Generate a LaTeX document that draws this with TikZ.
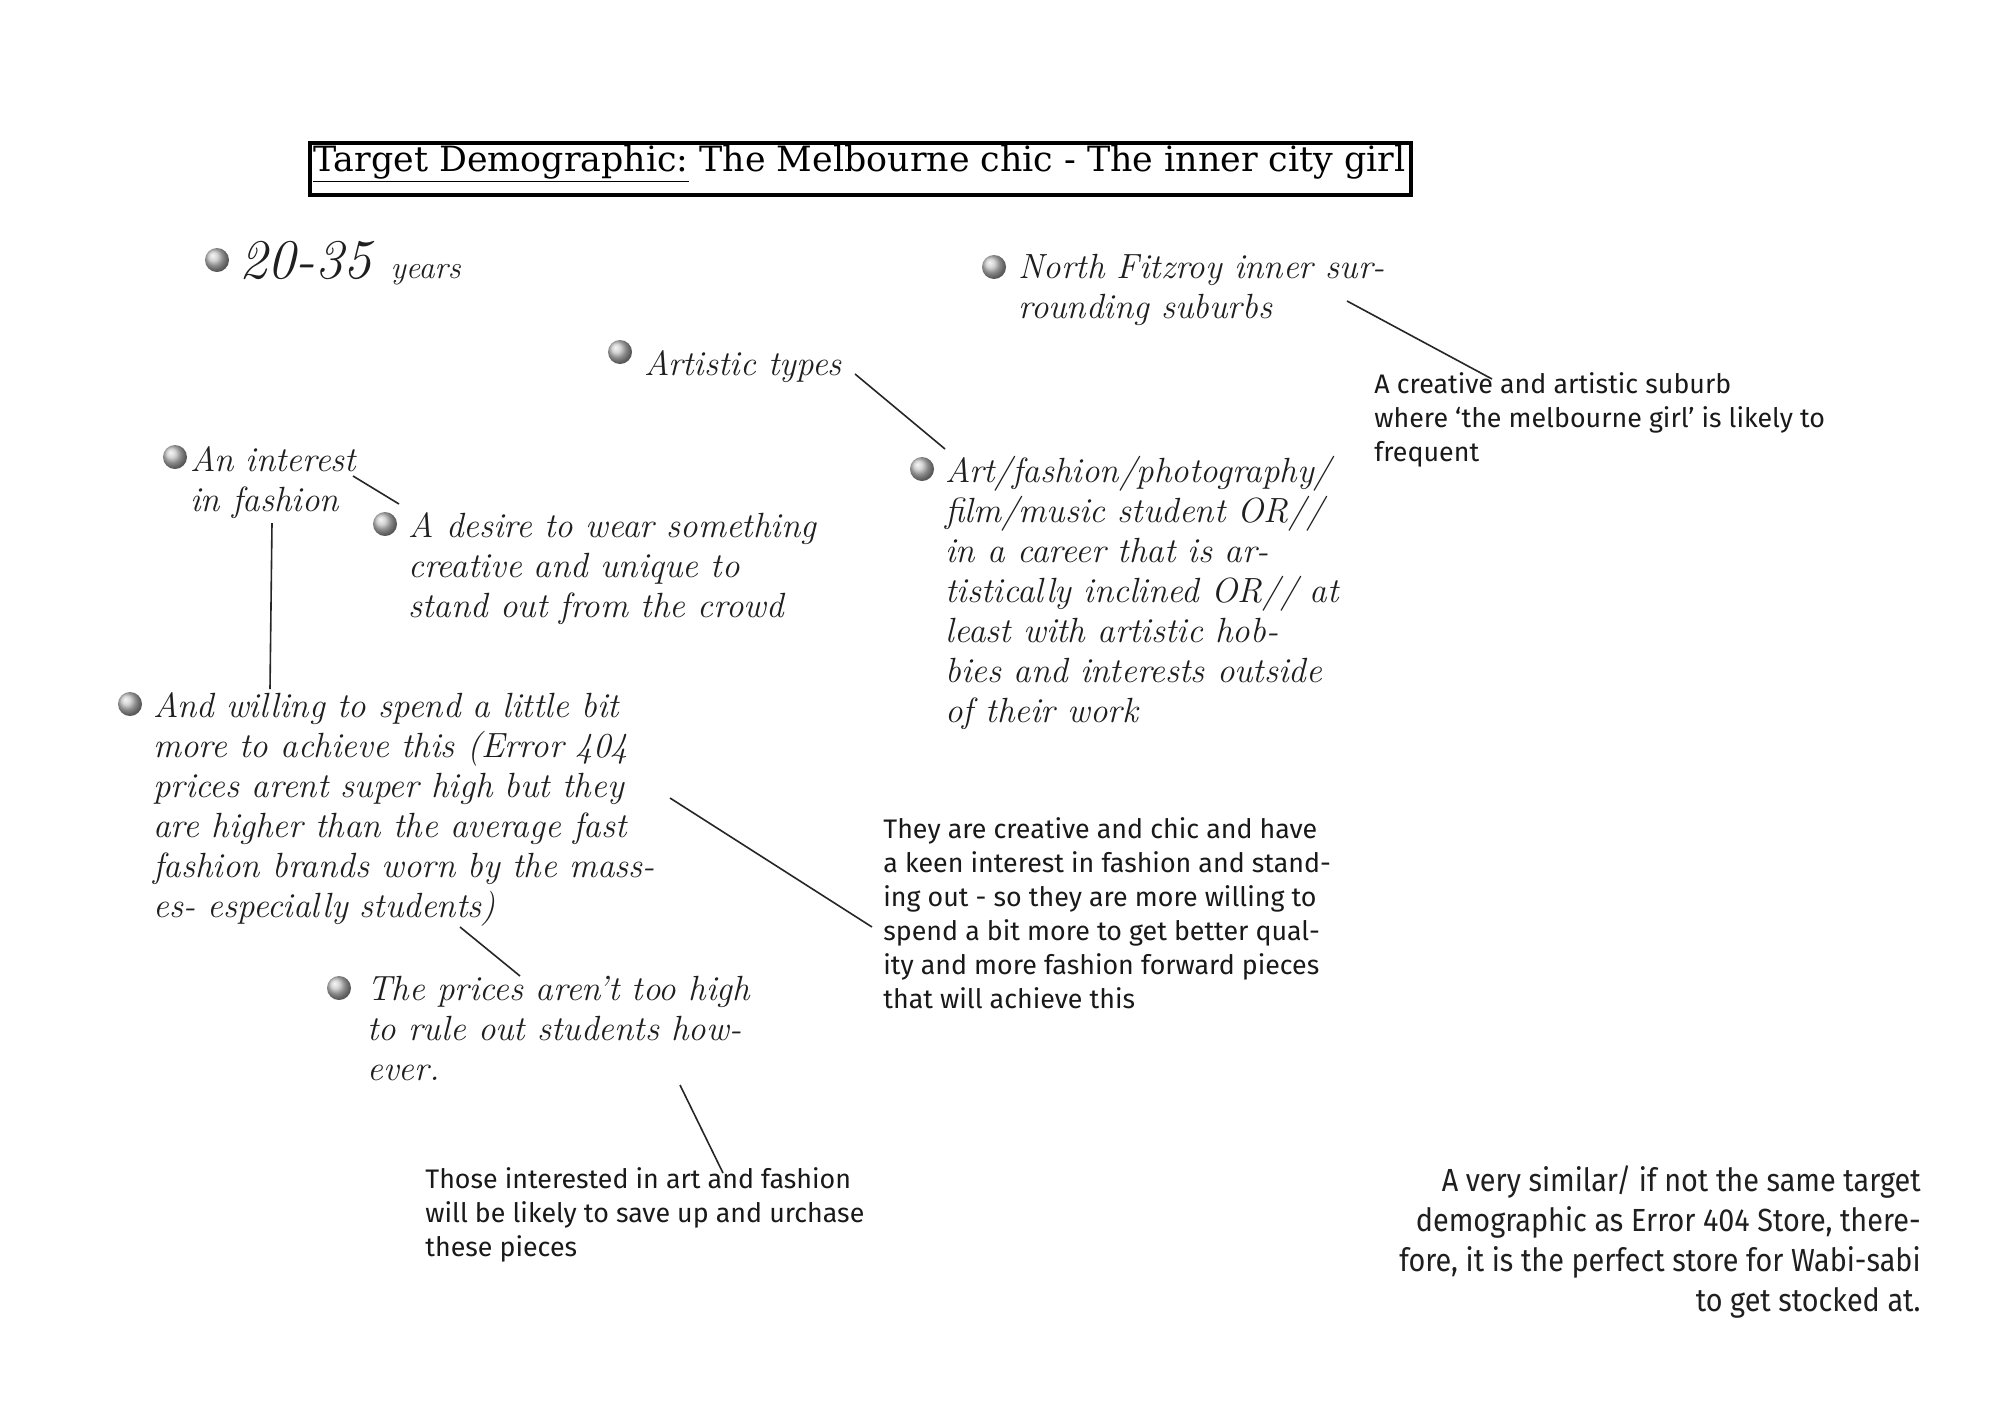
\documentclass[tikz,border=0pt]{standalone}
\usepackage{fontspec}
\newfontfamily\notefont{Fira Sans}
\newfontfamily\condfont{Fira Sans}[FakeStretch=0.9]
\newfontfamily\titlefont{DejaVu Serif}
\begin{document}
\begin{tikzpicture}[x=0.5pt,y=-0.5pt,
  hand/.style={anchor=north west,inner sep=0pt,align=left,text=black!88,
    font=\fontsize{17.5}{20}\selectfont\itshape},
  note/.style={anchor=north west,inner sep=0pt,align=left,text=black!90,
    font=\notefont\fontsize{13.4}{17}\selectfont},
  bullet/.style={circle,inner sep=0pt,minimum size=12pt,shade,ball color=gray!45},
  link/.style={line width=0.8pt,black!85}]
\useasboundingbox (0,0) rectangle (2000,1414);
\fill[white] (0,0) rectangle (2000,1414);
% title
\draw[line width=2.4pt] (310,143) rectangle (1411,195);
\node[anchor=base west,inner sep=0pt] (title) at (313,171)
  {\resizebox{546pt}{!}{\titlefont\fontsize{18}{20}\selectfont\underline{Target Demographic:} The Melbourne chic - The inner city girl}};
% bullets and handwritten items
\node[bullet] (b1) at (217,260) {};
\node[anchor=base west,inner sep=0pt,text=black!88] (years) at (239,278)
  {\itshape\fontsize{28}{30}\selectfont 20-35 \fontsize{16}{18}\selectfont years};
\node[bullet] (b2) at (994,267) {};
\node[hand] (fitz) at (1018,254) {North Fitzroy inner sur-\\rounding suburbs};
\node[bullet] (b3) at (620,352) {};
\node[hand] (arty) at (644,350) {Artistic types};
\node[bullet] (b4) at (175,457) {};
\node[hand] (interest) at (190,446) {An interest\\in fashion};
\node[bullet] (b5) at (385,524) {};
\node[hand] (desire) at (408,512) {A desire to wear something\\creative and unique to\\stand out from the crowd};
\node[bullet] (b6) at (922,469) {};
\node[hand] (artfash) at (945,456) {Art/fashion/photography/\\film/music student OR//\\in a career that is ar-\\tistically inclined OR// at\\least with artistic hob-\\bies and interests outside\\of their work};
\node[bullet] (b7) at (130,704) {};
\node[hand] (willing) at (153,692) {And willing to spend a little bit\\more to achieve this (Error 404\\prices arent super high but they\\are higher than the average fast\\fashion brands worn by the mass-\\es- especially students)};
\node[bullet] (b8) at (339,988) {};
\node[hand] (prices) at (367,976) {The prices aren't too high\\to rule out students how-\\ever.};
% typed notes
\node[note] (suburb) at (1374,372) {A creative and artistic suburb\\where ‘the melbourne girl’ is likely to\\frequent};
\node[note] (they) at (883,817) {They are creative and chic and have\\a keen interest in fashion and stand-\\ing out - so they are more willing to\\spend a bit more to get better qual-\\ity and more fashion forward pieces\\that will achieve this};
\node[note] (those) at (425,1167) {Those interested in art and fashion\\will be likely to save up and urchase\\these pieces};
\node[anchor=north east,inner sep=0pt,align=right,text=black!88,
  font=\condfont\fontsize{16}{20}\selectfont] (similar) at (1921,1165)
  {A very similar/ if not the same target\\demographic as Error 404 Store, there-\\fore, it is the perfect store for Wabi-sabi\\to get stocked at.};
% connector end points
\coordinate (c1a) at (1347,301); \coordinate (c1b) at (1492,379);
\coordinate (c2a) at (855,374);  \coordinate (c2b) at (945,449);
\coordinate (c3a) at (353,476);  \coordinate (c3b) at (399,504);
\coordinate (c4a) at (272,523);  \coordinate (c4b) at (270,689);
\coordinate (c5a) at (460,927);  \coordinate (c5b) at (520,976);
\coordinate (c6a) at (670,798);  \coordinate (c6b) at (872,927);
\coordinate (c7a) at (680,1085); \coordinate (c7b) at (723,1173);
\draw[link] (c1a) -- (c1b);
\draw[link] (c2a) -- (c2b);
\draw[link] (c3a) -- (c3b);
\draw[link] (c4a) -- (c4b);
\draw[link] (c5a) -- (c5b);
\draw[link] (c6a) -- (c6b);
\draw[link] (c7a) -- (c7b);
\end{tikzpicture}
\end{document}
